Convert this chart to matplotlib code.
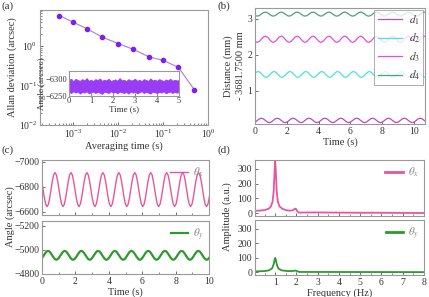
import matplotlib
matplotlib.use('Agg')
import matplotlib.pyplot as plt
import matplotlib.ticker as mticker
import numpy as np

plt.rcParams['font.family'] = ['Liberation Serif', 'DejaVu Serif']
plt.rcParams['mathtext.fontset'] = 'stix'
plt.rcParams['font.size'] = 7
plt.rcParams['text.color'] = '#333333'
plt.rcParams['axes.labelcolor'] = '#333333'
plt.rcParams['xtick.color'] = '#555555'
plt.rcParams['ytick.color'] = '#555555'
plt.rcParams['xtick.labelcolor'] = '#333333'
plt.rcParams['ytick.labelcolor'] = '#333333'
plt.rcParams['axes.edgecolor'] = '#999999'
plt.rcParams['axes.linewidth'] = 0.8

# ---- (a) Allan deviation ----
tau = [5e-4, 1e-3, 2e-3, 4.5e-3, 1e-2, 2.2e-2, 5e-2, 0.1, 0.22, 0.5]
adev = [6.0, 4.1, 2.8, 1.7, 1.17, 0.83, 0.53, 0.44, 0.29, 0.078]

# inset: envelope of the raw angle record (arcsec)
inset_t = [0.0, 0.1, 0.2, 0.3, 0.4, 0.5, 0.6, 0.7, 0.8, 0.9, 1.0, 1.1, 1.2, 1.3, 1.4, 1.5, 1.6,
           1.7, 1.8, 1.9, 2.0, 2.1, 2.2, 2.3, 2.4, 2.5, 2.6, 2.7, 2.8, 2.9, 3.0, 3.1, 3.2, 3.3,
           3.4, 3.5, 3.6, 3.7, 3.8, 3.9, 4.0, 4.1, 4.2, 4.3, 4.4, 4.5, 4.6, 4.7, 4.8, 4.9, 5.0]
inset_hi = [-6296, -6299, -6294, -6301, -6297, -6295, -6300, -6296, -6303, -6295, -6298,
            -6294, -6300, -6297, -6302, -6295, -6298, -6296, -6301, -6294, -6297, -6299,
            -6295, -6303, -6296, -6298, -6294, -6300, -6296, -6297, -6301, -6295, -6298,
            -6294, -6300, -6297, -6295, -6302, -6296, -6298, -6295, -6300, -6297, -6294,
            -6299, -6296, -6301, -6295, -6298, -6296, -6297]
inset_lo = [-6262, -6259, -6264, -6260, -6263, -6257, -6262, -6260, -6264, -6258, -6261,
            -6263, -6259, -6262, -6260, -6256, -6263, -6261, -6259, -6264, -6260, -6262,
            -6258, -6263, -6261, -6259, -6262, -6257, -6263, -6260, -6262, -6258, -6261,
            -6264, -6259, -6262, -6260, -6257, -6263, -6261, -6259, -6262, -6260, -6264,
            -6258, -6261, -6263, -6259, -6262, -6260, -6261]

# ---- (b) distances, one cycle (12 samples, period 1 s) per sensor ----
d_period = 1.0
d_first_peak = [0.40, 0.20, 0.65, 0.65]
d_cycle = [
    [0.23, 0.222, 0.2, 0.17, 0.14, 0.118, 0.11, 0.118, 0.14, 0.17, 0.2, 0.222],
    [1.53, 1.519, 1.49, 1.45, 1.41, 1.381, 1.37, 1.381, 1.41, 1.45, 1.49, 1.519],
    [2.515, 2.503, 2.473, 2.43, 2.388, 2.357, 2.345, 2.357, 2.388, 2.43, 2.473, 2.503],
    [3.185, 3.177, 3.158, 3.13, 3.103, 3.082, 3.075, 3.082, 3.103, 3.13, 3.158, 3.177],
]
d_names = ['$d_1$', '$d_2$', '$d_3$', '$d_4$']
d_colors = ['#b84cb8', '#48e2e2', '#e44ce4', '#4aa082']

# ---- (c) angles, one cycle (12 samples) each ----
thx_period = 0.955
thx_first_peak = 0.78
thx_cycle = [-6912, -6894, -6845, -6777, -6710, -6660, -6642, -6660, -6710, -6777, -6845, -6894]
thy_period = 1.0
thy_first_peak = 0.36
thy_cycle = [-4992, -4987, -4973, -4955, -4937, -4923, -4918, -4923, -4937, -4955, -4973, -4987]

# ---- (d) spectra ----
fx = [0.05, 0.3, 0.5, 0.7, 0.8, 0.88, 0.93, 0.97, 1.0, 1.03, 1.07, 1.12, 1.2, 1.35, 1.5,
      1.7, 1.85, 1.93, 1.98, 2.05, 2.12, 2.5, 3.0, 4.0, 5.0, 6.0, 7.0, 8.0]
ampx = [15, 17, 20, 30, 45, 80, 150, 280, 350, 280, 150, 80, 45, 28, 20,
        16, 20, 30, 28, 10, 3, 4, 4, 3, 2, 2, 1, 0]
fy = [0.05, 0.5, 0.7, 0.85, 0.93, 0.98, 1.0, 1.03, 1.08, 1.15, 1.3, 1.6, 1.85, 1.95,
      2.05, 2.15, 3.0, 5.0, 8.0]
ampy = [5, 7, 12, 25, 55, 90, 98, 85, 50, 25, 12, 7, 8, 11, 5, 1, 1, 0.5, 0]

pink = '#e8559c'
green = '#2e9a2e'
purple = '#7b22e6'


def tiled(cycle, period, first_peak, t_end):
    n = len(cycle)
    step = period / n
    t0 = first_peak - period
    reps = int(np.ceil((t_end - t0) / period)) + 1
    t = t0 + step * np.arange(n * reps + 1)
    y = np.array(list(cycle) * reps + [cycle[0]])
    return t, y


def style(ax):
    ax.tick_params(direction='in', length=2.5, width=0.6, pad=2, labelsize=7)
    ax.tick_params(which='minor', direction='in', length=1.5, width=0.5)


W, H = 429, 297
fig = plt.figure(figsize=(W / 100, H / 100), dpi=100)


def box(l, t, r, b):
    return [l / W, 1 - b / H, (r - l) / W, (b - t) / H]


# (a)
axa = fig.add_axes(box(40, 10, 208, 125))
axa.plot(tau, adev, '-', color='#a87af0', lw=0.8)
axa.plot(tau, adev, 'o', color=purple, ms=3)
axa.set_xscale('log')
axa.set_yscale('log')
axa.set_xlim(1.85e-4, 1)
axa.set_ylim(0.01, 8.3)
axa.set_xticks([1e-3, 1e-2, 1e-1, 1])
axa.set_yticks([1e-2, 1e-1, 1])
axa.xaxis.set_major_formatter(mticker.LogFormatterMathtext())
axa.yaxis.set_major_formatter(mticker.LogFormatterMathtext())
axa.set_xlabel('Averaging time (s)', fontsize=7.5, labelpad=1)
axa.set_ylabel('Allan deviation (arcsec)', fontsize=7.5, labelpad=1)
style(axa)

axi = fig.add_axes(box(69, 71, 179, 96))
axi.fill_between(inset_t, inset_hi, inset_lo, color='#9a3cf5', lw=0.6, edgecolor='#9a3cf5')
axi.set_xlim(0, 5)
axi.set_ylim(-6250, -6324)
axi.set_yticks([-6300, -6250])
axi.set_xticks([0, 1, 2, 3, 4, 5])
axi.tick_params(direction='in', length=2, width=0.5, pad=1, labelsize=6)
axi.set_xlabel('Time (s)', fontsize=6.5, labelpad=0)
axi.set_ylabel('Angle (arcsec)', fontsize=6.5, labelpad=0)

# (b)
axb = fig.add_axes(box(255, 8, 425, 124))
for k in range(4):
    t, y = tiled(d_cycle[k], d_period, d_first_peak[k], 10.7)
    axb.plot(t, y, color=d_colors[k], lw=0.9, label=d_names[k])
axb.set_xlim(0, 10.7)
axb.set_ylim(0.07, 3.3)
axb.set_xticks([0, 2, 4, 6, 8, 10])
axb.set_yticks([1, 2, 3])
axb.set_xlabel('Time (s)', fontsize=7.5, labelpad=1)
axb.set_ylabel('Distance (mm)\n- 3681.7500 mm', fontsize=7.5, labelpad=2, linespacing=1.3)
style(axb)
leg = axb.legend(loc='upper right', fontsize=8, frameon=True, fancybox=False,
                 edgecolor='#888888', handlelength=2.2, labelspacing=0.45,
                 borderaxespad=0.15, handletextpad=0.6, borderpad=0.3)
leg.get_frame().set_linewidth(0.6)

# (c)
axc1 = fig.add_axes(box(42, 160, 209, 215))
axc2 = fig.add_axes(box(42, 221, 209, 274))
t, y = tiled(thx_cycle, thx_period, thx_first_peak, 10)
axc1.plot(t, y, color=pink, lw=1.0, label=r'$\theta_x$')
t, y = tiled(thy_cycle, thy_period, thy_first_peak, 10)
axc2.plot(t, y, color=green, lw=1.6, label=r'$\theta_y$')
axc1.set_ylim(-6575, -7012)
axc1.set_yticks([-7000, -6800, -6600])
axc2.set_ylim(-4800, -5240)
axc2.set_yticks([-5200, -5000, -4800])
for ax in (axc1, axc2):
    ax.set_xlim(0, 10)
    ax.set_xticks([0, 2, 4, 6, 8, 10])
    ax.xaxis.set_minor_locator(mticker.MultipleLocator(1))
    style(ax)
    lg = ax.legend(loc='upper right', frameon=False, fontsize=8, handlelength=1.6,
                   borderaxespad=0.1, handletextpad=0.4)
    for tx in lg.get_texts():
        tx.set_color('#888888')
axc1.tick_params(labelbottom=False)
axc2.set_xlabel('Time (s)', fontsize=7.5, labelpad=1)
fig.text(5 / W, 1 - 217 / H, 'Angle (arcsec)', rotation=90, va='center', ha='left', fontsize=7.5)

# (d)
axd1 = fig.add_axes(box(255, 160, 424, 216))
axd2 = fig.add_axes(box(255, 220, 424, 275))
axd1.plot(fx, ampx, color=pink, lw=1.3, label=r'$\theta_x$')
axd2.plot(fy, ampy, color=green, lw=1.3, label=r'$\theta_y$')
for ax in (axd1, axd2):
    ax.set_xlim(0.05, 8)
    ax.set_ylim(-20, 360)
    ax.set_xticks([1, 2, 3, 4, 5, 6, 7, 8])
    ax.set_yticks([0, 100, 200, 300])
    ax.xaxis.set_minor_locator(mticker.MultipleLocator(0.5))
    style(ax)
    lg = ax.legend(loc='upper right', frameon=False, fontsize=8, handlelength=1.6,
                   borderaxespad=0.1, handletextpad=0.4)
    for h in lg.get_lines():
        h.set_linewidth(2.0)
    for tx in lg.get_texts():
        tx.set_color('#888888')
axd1.tick_params(labelbottom=False)
axd2.set_xlabel('Frequency (Hz)', fontsize=7.5, labelpad=1)
fig.text(222 / W, 1 - 217 / H, 'Amplitude (a.u.)', rotation=90, va='center', ha='left', fontsize=7.5)

# panel tags
for x, y, s in [(2, 1, '(a)'), (217, 1, '(b)'), (2, 145, '(c)'), (217, 145, '(d)')]:
    fig.text(x / W, 1 - y / H, s, ha='left', va='top', fontsize=8)

fig.savefig('out.png', dpi=100)
